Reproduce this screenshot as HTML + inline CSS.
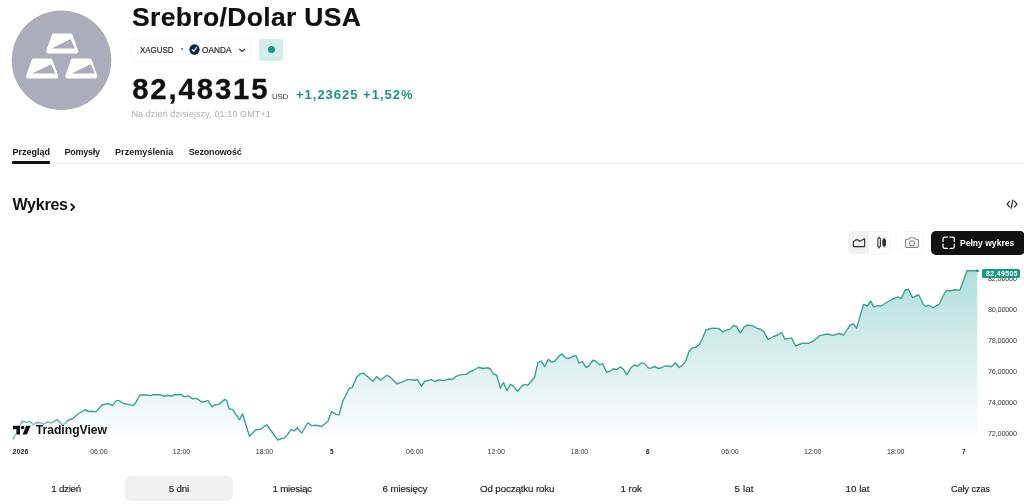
<!DOCTYPE html>
<html lang="pl">
<head>
<meta charset="utf-8">
<title>Srebro/Dolar USA</title>
<style>
html,body{margin:0;padding:0;background:#fff;}
body{will-change:transform;width:1024px;height:504px;position:relative;overflow:hidden;font-family:"Liberation Sans",sans-serif;}
.t{position:absolute;line-height:1;white-space:nowrap;font-family:"Liberation Sans",sans-serif;}
.abs{position:absolute;}
</style>
</head>
<body>

<!-- symbol logo -->
<svg class="abs" style="left:0;top:0" width="128" height="126" viewBox="0 0 128 126">
  <circle cx="61.5" cy="60.3" r="49.8" fill="#acacba"/>
  <g fill="#fff" stroke="#fff" stroke-width="4.4" stroke-linejoin="round">
    <path d="M53.8 35.6 L70.4 35.6 L76.1 51.4 L48.4 51.4 Z"/>
    <path d="M33.7 60.6 L50.3 60.6 L56 76.4 L28.3 76.4 Z"/>
    <path d="M72.9 60.6 L89.5 60.6 L95.2 76.4 L67.5 76.4 Z"/>
  </g>
  <g fill="#acacba">
    <path d="M51.4 48.5 L70.7 38.9 L74.9 48.5 Z"/>
    <path d="M31.9 73.6 L51.2 64.2 L55.4 73.6 Z"/>
    <path d="M71.4 73.6 L90.7 64.2 L94.9 73.6 Z"/>
  </g>
</svg>

<!-- symbol pill -->
<div class="abs" style="left:131px;top:38px;width:119px;height:22px;border:1px solid #f6f6f6;border-radius:4px;"></div>
<div class="abs" style="left:180.5px;top:48.1px;width:2px;height:2px;border-radius:50%;background:#666;"></div>
<svg class="abs" style="left:188.5px;top:44.3px" width="11" height="11" viewBox="0 0 11 11">
  <circle cx="5.5" cy="5.5" r="5.15" fill="#13244a"/>
  <path d="M3.3 5.7 L4.8 7.3 L7.6 3.5" fill="none" stroke="#e6edff" stroke-width="1.25" stroke-linecap="round" stroke-linejoin="round"/>
</svg>
<svg class="abs" style="left:238px;top:47px" width="9" height="7" viewBox="0 0 9 7">
  <path d="M1.7 2.2 L4.15 4.4 L6.6 2.2" fill="none" stroke="#444" stroke-width="1.3" stroke-linecap="round" stroke-linejoin="round"/>
</svg>
<!-- market open box -->
<div class="abs" style="left:259px;top:39px;width:24px;height:21.5px;border-radius:3px;background:#d3eee8;"></div>
<div class="abs" style="left:267.7px;top:46.2px;width:7px;height:7px;border-radius:50%;background:#179a7c;"></div>

<!-- tabs -->
<div class="abs" style="left:12px;top:162.6px;width:1012px;height:1px;background:#ececec;"></div>
<div class="abs" style="left:12.4px;top:161.3px;width:37.8px;height:2.4px;border-radius:1px;background:#111;"></div>

<!-- Wykres chevron -->
<svg class="abs" style="left:69px;top:202px" width="8" height="10" viewBox="0 0 8 10">
  <path d="M2.2 2.2 L5.3 5.2 L2.2 8.2" fill="none" stroke="#111" stroke-width="1.8" stroke-linecap="round" stroke-linejoin="round"/>
</svg>

<!-- embed icon -->
<svg class="abs" style="left:1005px;top:198px" width="14" height="12" viewBox="0 0 14 12">
  <g fill="none" stroke="#2e2e2e" stroke-width="1.3" stroke-linecap="round" stroke-linejoin="round">
    <path d="M4.5 3.3 L2.1 6.1 L4.5 8.9"/>
    <path d="M9.6 3.3 L12 6.1 L9.6 8.9"/>
    <path d="M7.9 2.2 L6.2 10"/>
  </g>
</svg>

<!-- chart type group -->
<div class="abs" style="left:847.5px;top:230.5px;width:43px;height:23px;border:1px solid #f5f5f5;border-radius:4px;box-sizing:border-box;"></div>
<div class="abs" style="left:848.5px;top:231.5px;width:20.5px;height:21px;border-radius:3px;background:#f1f1f1;"></div>
<svg class="abs" style="left:851px;top:235px" width="16" height="15" viewBox="0 0 16 15">
  <path d="M2.4 11.6 L2.4 6.6 L6 4.4 L8.8 6.3 L13.6 3.7 L13.6 11.6 Z" fill="none" stroke="#333" stroke-width="1.15" stroke-linejoin="round"/>
</svg>
<svg class="abs" style="left:875px;top:235px" width="13" height="15" viewBox="0 0 13 15">
  <g fill="none" stroke="#333" stroke-width="1.1">
    <rect x="2.9" y="3.3" width="2.5" height="8.6" rx="0.6"/>
    <path d="M4.15 1.4 V3.3 M4.15 11.9 V13.6"/>
    <rect x="7.9" y="4.6" width="2.5" height="6.1" rx="0.6" fill="#333"/>
    <path d="M9.15 2.7 V4.6 M9.15 10.7 V12.4"/>
  </g>
</svg>
<!-- camera -->
<div class="abs" style="left:900.5px;top:230.5px;width:23px;height:23px;border:1px solid #f6f6f6;border-radius:4px;box-sizing:border-box;"></div>
<svg class="abs" style="left:904px;top:236px" width="16" height="13" viewBox="0 0 16 13">
  <g fill="none" stroke="#8a8a8a" stroke-width="1.1" stroke-linejoin="round">
    <path d="M1.6 4 Q1.6 3.2 2.4 3.2 L4.8 3.2 L5.9 1.7 L10.1 1.7 L11.2 3.2 L13.6 3.2 Q14.4 3.2 14.4 4 L14.4 10.6 Q14.4 11.4 13.6 11.4 L2.4 11.4 Q1.6 11.4 1.6 10.6 Z"/>
    <circle cx="8" cy="7.2" r="2.5"/>
  </g>
</svg>
<!-- full chart button -->
<div class="abs" style="left:931px;top:231px;width:93.5px;height:23.5px;border-radius:5px;background:#111;"></div>
<svg class="abs" style="left:942.3px;top:235.7px" width="14" height="14" viewBox="0 0 14 14">
  <g fill="none" stroke="#fff" stroke-width="1.25" stroke-linecap="round" stroke-linejoin="round">
    <path d="M1.1 5.4 V2.6 Q1.1 1.1 2.6 1.1 H5.4"/>
    <path d="M8 1.1 H10.8 Q12.3 1.1 12.3 2.6 V5.4"/>
    <path d="M12.3 8 V10.8 Q12.3 12.3 10.8 12.3 H8"/>
    <path d="M5.4 12.3 H2.6 Q1.1 12.3 1.1 10.8 V8"/>
  </g>
</svg>

<!-- chart -->
<svg class="abs" style="left:0;top:0" width="1024" height="504" viewBox="0 0 1024 504">
  <defs>
    <linearGradient id="ag" x1="0" y1="262" x2="0" y2="441" gradientUnits="userSpaceOnUse">
      <stop offset="0" stop-color="#1aa098" stop-opacity="0.36"/>
      <stop offset="1" stop-color="#1aa098" stop-opacity="0"/>
    </linearGradient>
  </defs>
  <polygon fill="url(#ag)" points="13.1,441 13.1,439 16.25,433.1 19.2,426.6 22.3,421.2 24,421.6 26.2,422.6 29.2,421.4 31.2,422.4 33.1,424.8 36.9,422.5 41.25,422.9 43.75,424.4 47.75,421.9 51.25,423.1 56.9,419.75 60,422.5 62.1,424.75 65,423.75 68.1,420.25 72.5,418.75 78.1,414 85,409.75 88.75,411.5 92.5,411.25 96,411.9 101.9,405 108.1,403.5 112.5,405.6 116.25,400.6 118.75,400.6 123.75,403.5 128,404.4 133,405.6 135.5,403.1 139.9,395 145.5,395 151.1,395.6 152.4,394.75 159.9,394.75 164.25,396.25 167.4,395.25 171.1,396 174.9,394.75 181.1,394.5 184.9,396.9 188,395.6 192.4,398.75 196.75,398.4 201.75,402.25 208,400.6 212,406.9 214.9,404.75 218.6,404.4 224.9,399.4 226.75,400.6 229,408.75 232.4,409.4 239.6,419.75 242.4,413.75 249.5,436.25 256,429.8 260.4,429.4 266.6,424.75 277.9,440 281,438.75 284.1,438.1 287.25,435 291,429.4 294.1,431 297.25,427.75 301.6,433.1 307.9,422.75 311.6,425.6 316,425.25 321.6,426.5 327.9,421.25 331.6,411.5 336,414.4 339.1,414.75 342.7,401.2 349.3,388.3 352.1,387.75 356.9,376.9 360,374 363.1,373.1 373.1,381.25 376.5,376.6 380.6,380 386.9,375.25 390,376.9 396.9,383.75 402.5,381.9 408.1,379.4 415,380.25 417.5,379.4 421.25,386.25 424.75,381.25 431.25,379.6 435,381.5 438.75,380 443.75,380.4 449.4,379 452.5,379.4 455.8,376.4 461.6,374.6 466,374.4 469.75,371.9 472.25,371 478.5,367.25 482.9,368.5 487.9,367.75 490.4,369 493.5,374 496.6,375 500.4,388.1 503.5,382.5 507,390.6 510.4,384.4 512.9,385.6 517.5,391.25 521,386.9 524.1,384.4 527.9,385.25 534.5,377.5 537.9,362.75 541,361 544.75,366.5 548.25,359.4 552,362.25 554.75,361.25 559.75,355.25 562.25,354 565.4,357.9 568.5,358.5 574.75,355.6 576.2,355.9 579,363.1 582,361.5 586.25,367.25 588.5,366.25 592.9,360.25 595.4,361 600,365 602.5,363.5 606.6,372.25 609.75,371.25 613.25,368.75 617,369.6 620,366.9 622.9,368.75 627,374.75 630.75,368.1 634.1,365 637.5,366.25 641,363.1 644.1,363.1 648.5,368.1 651,368.1 654.5,366.5 658.5,368.5 662.25,367.5 665,366 671.6,366.5 675.4,362.75 679.1,367.5 682.25,365.25 685.4,361.9 689.1,351.25 692.25,347.75 696,347.1 699.75,344 702.25,338.75 706,330 712.25,328.1 719.1,328.5 722.9,331.9 726.6,330 729.75,329.4 733.25,325.6 736.6,326.25 740.4,333.1 744.1,326.9 747.9,325 752.9,325.9 757.25,328.5 760.4,329 764.1,331.9 767.9,339.4 773.5,336.5 778.5,334.75 781.6,332.5 784.75,339 791.6,338.1 795.75,346 802.25,343.1 808.5,343.4 814.1,340.6 819.75,335.6 827.25,334 832.9,335.4 839.1,333.5 843.75,335 850,325 853.5,324 856.6,328.1 863.5,304.4 867.25,306 870.75,301 873.75,306.9 877.25,305.6 881,306 891,299.75 897.9,296.9 901.4,298.5 905,290.2 908.4,289.3 912.4,297.55 918.6,294.75 923.4,304.45 926.1,306.45 928.6,305.25 932.9,307.7 939.1,304.3 946,290.5 949.75,291 954.75,289.75 960,290.1 967,270.75 977.25,270.75 977.25,441"/>
  <polyline fill="none" stroke="#3aa391" stroke-width="1.4" stroke-linejoin="round" stroke-linecap="round" points="13.1,439 16.25,433.1 19.2,426.6 22.3,421.2 24,421.6 26.2,422.6 29.2,421.4 31.2,422.4 33.1,424.8 36.9,422.5 41.25,422.9 43.75,424.4 47.75,421.9 51.25,423.1 56.9,419.75 60,422.5 62.1,424.75 65,423.75 68.1,420.25 72.5,418.75 78.1,414 85,409.75 88.75,411.5 92.5,411.25 96,411.9 101.9,405 108.1,403.5 112.5,405.6 116.25,400.6 118.75,400.6 123.75,403.5 128,404.4 133,405.6 135.5,403.1 139.9,395 145.5,395 151.1,395.6 152.4,394.75 159.9,394.75 164.25,396.25 167.4,395.25 171.1,396 174.9,394.75 181.1,394.5 184.9,396.9 188,395.6 192.4,398.75 196.75,398.4 201.75,402.25 208,400.6 212,406.9 214.9,404.75 218.6,404.4 224.9,399.4 226.75,400.6 229,408.75 232.4,409.4 239.6,419.75 242.4,413.75 249.5,436.25 256,429.8 260.4,429.4 266.6,424.75 277.9,440 281,438.75 284.1,438.1 287.25,435 291,429.4 294.1,431 297.25,427.75 301.6,433.1 307.9,422.75 311.6,425.6 316,425.25 321.6,426.5 327.9,421.25 331.6,411.5 336,414.4 339.1,414.75 342.7,401.2 349.3,388.3 352.1,387.75 356.9,376.9 360,374 363.1,373.1 373.1,381.25 376.5,376.6 380.6,380 386.9,375.25 390,376.9 396.9,383.75 402.5,381.9 408.1,379.4 415,380.25 417.5,379.4 421.25,386.25 424.75,381.25 431.25,379.6 435,381.5 438.75,380 443.75,380.4 449.4,379 452.5,379.4 455.8,376.4 461.6,374.6 466,374.4 469.75,371.9 472.25,371 478.5,367.25 482.9,368.5 487.9,367.75 490.4,369 493.5,374 496.6,375 500.4,388.1 503.5,382.5 507,390.6 510.4,384.4 512.9,385.6 517.5,391.25 521,386.9 524.1,384.4 527.9,385.25 534.5,377.5 537.9,362.75 541,361 544.75,366.5 548.25,359.4 552,362.25 554.75,361.25 559.75,355.25 562.25,354 565.4,357.9 568.5,358.5 574.75,355.6 576.2,355.9 579,363.1 582,361.5 586.25,367.25 588.5,366.25 592.9,360.25 595.4,361 600,365 602.5,363.5 606.6,372.25 609.75,371.25 613.25,368.75 617,369.6 620,366.9 622.9,368.75 627,374.75 630.75,368.1 634.1,365 637.5,366.25 641,363.1 644.1,363.1 648.5,368.1 651,368.1 654.5,366.5 658.5,368.5 662.25,367.5 665,366 671.6,366.5 675.4,362.75 679.1,367.5 682.25,365.25 685.4,361.9 689.1,351.25 692.25,347.75 696,347.1 699.75,344 702.25,338.75 706,330 712.25,328.1 719.1,328.5 722.9,331.9 726.6,330 729.75,329.4 733.25,325.6 736.6,326.25 740.4,333.1 744.1,326.9 747.9,325 752.9,325.9 757.25,328.5 760.4,329 764.1,331.9 767.9,339.4 773.5,336.5 778.5,334.75 781.6,332.5 784.75,339 791.6,338.1 795.75,346 802.25,343.1 808.5,343.4 814.1,340.6 819.75,335.6 827.25,334 832.9,335.4 839.1,333.5 843.75,335 850,325 853.5,324 856.6,328.1 863.5,304.4 867.25,306 870.75,301 873.75,306.9 877.25,305.6 881,306 891,299.75 897.9,296.9 901.4,298.5 905,290.2 908.4,289.3 912.4,297.55 918.6,294.75 923.4,304.45 926.1,306.45 928.6,305.25 932.9,307.7 939.1,304.3 946,290.5 949.75,291 954.75,289.75 960,290.1 967,270.75 977.25,270.75"/>
  <circle cx="977.5" cy="270.8" r="1.4" fill="#178d78"/>
</svg>

<!-- price label -->
<div class="abs" style="left:982px;top:269.3px;width:38.2px;height:9px;border-radius:1.5px;background:#169a80;z-index:2;"></div>

<!-- tradingview logo -->
<div class="abs" style="left:10px;top:423px;width:100px;height:14px;background:rgba(255,255,255,0.55);filter:blur(2px);"></div>
<svg class="abs" style="left:12px;top:425px" width="20" height="10" viewBox="0 0 20 10">
  <g fill="#111">
    <path d="M1 0.8 H8 V9.4 H4.5 V4.2 H1 Z"/>
    <circle cx="10.6" cy="2.5" r="1.75"/>
    <path d="M14.2 0.8 H18.6 L14.9 9.4 H10.6 Z"/>
  </g>
</svg>

<!-- range selected -->
<div class="abs" style="left:125px;top:476.3px;width:107.5px;height:25px;border-radius:6px;background:#f0f0f0;"></div>

<span class="t" id="t0" style="left:132.00px;top:4.00px;font-size:26.5px;font-weight:700;color:#111;letter-spacing:0.345px;-webkit-text-stroke:0.2px #111;">Srebro/Dolar USA</span>
<span class="t" id="t1" style="left:140.40px;top:46.00px;font-size:9px;font-weight:400;color:#2a2a2a;letter-spacing:0.000px;-webkit-text-stroke:0.2px #2a2a2a;transform:scaleX(0.8838);transform-origin:0 0;">XAGUSD</span>
<span class="t" id="t2" style="left:202.00px;top:46.00px;font-size:9px;font-weight:400;color:#2a2a2a;letter-spacing:0.000px;-webkit-text-stroke:0.2px #2a2a2a;transform:scaleX(0.9214);transform-origin:0 0;">OANDA</span>
<span class="t" id="t3" style="left:132.20px;top:74.00px;font-size:29.3px;font-weight:700;color:#111;letter-spacing:1.885px;-webkit-text-stroke:0.3px #111;">82,48315</span>
<span class="t" id="t4" style="left:271.90px;top:93.00px;font-size:8px;font-weight:400;color:#333;letter-spacing:-0.245px;">USD</span>
<span class="t" id="t5" style="left:296.00px;top:88.00px;font-size:13px;font-weight:700;color:#1c9380;letter-spacing:0.989px;">+1,23625 +1,52%</span>
<span class="t" id="t6" style="left:131.40px;top:110.00px;font-size:9px;font-weight:400;color:#aeaeae;letter-spacing:0.105px;">Na dzień dzisiejszy, 01:10 GMT+1</span>
<span class="t" id="t7" style="left:12.50px;top:148.00px;font-size:9px;font-weight:700;color:#111;letter-spacing:-0.002px;">Przegląd</span>
<span class="t" id="t8" style="left:64.50px;top:148.00px;font-size:9px;font-weight:700;color:#222;letter-spacing:-0.255px;">Pomysły</span>
<span class="t" id="t9" style="left:115.00px;top:148.00px;font-size:9px;font-weight:700;color:#222;letter-spacing:0.064px;">Przemyślenia</span>
<span class="t" id="t10" style="left:188.75px;top:148.00px;font-size:9px;font-weight:700;color:#222;letter-spacing:-0.168px;">Sezonowość</span>
<span class="t" id="t11" style="left:12.50px;top:197.00px;font-size:16px;font-weight:700;color:#111;letter-spacing:-0.228px;">Wykres</span>
<span class="t" id="t12" style="left:959.75px;top:238.00px;font-size:9.6px;font-weight:700;color:#fff;letter-spacing:0.000px;transform:scaleX(0.8921);transform-origin:0 0;">Pełny wykres</span>
<span class="t" id="t13" style="left:35.70px;top:424.00px;font-size:12.2px;font-weight:700;color:#111;letter-spacing:-0.018px;">TradingView</span>
<span class="t" id="t14" style="left:986.00px;top:270.00px;font-size:7px;font-weight:700;color:#fff;letter-spacing:0.328px;z-index:3;">82,49505</span>
<span class="t" id="t15" style="left:988.00px;top:275.00px;font-size:7.3px;font-weight:400;color:#3a3a3a;letter-spacing:-0.205px;">82,00000</span>
<span class="t" id="t16" style="left:988.00px;top:306.00px;font-size:7.3px;font-weight:400;color:#3a3a3a;letter-spacing:-0.205px;">80,00000</span>
<span class="t" id="t17" style="left:988.00px;top:337.00px;font-size:7.3px;font-weight:400;color:#3a3a3a;letter-spacing:-0.205px;">78,00000</span>
<span class="t" id="t18" style="left:988.00px;top:368.00px;font-size:7.3px;font-weight:400;color:#3a3a3a;letter-spacing:-0.205px;">76,00000</span>
<span class="t" id="t19" style="left:988.00px;top:399.00px;font-size:7.3px;font-weight:400;color:#3a3a3a;letter-spacing:-0.205px;">74,00000</span>
<span class="t" id="t20" style="left:988.00px;top:430.00px;font-size:7.3px;font-weight:400;color:#3a3a3a;letter-spacing:-0.205px;">72,00000</span>
<span class="t" id="t21" style="left:12.40px;top:448.00px;font-size:7px;font-weight:700;color:#222;letter-spacing:0.141px;">2026</span>
<span class="t" id="t22" style="left:90.20px;top:448.00px;font-size:7px;font-weight:400;color:#333;letter-spacing:-0.033px;">06:00</span>
<span class="t" id="t23" style="left:172.80px;top:448.00px;font-size:7px;font-weight:400;color:#333;letter-spacing:-0.033px;">12:00</span>
<span class="t" id="t24" style="left:255.80px;top:448.00px;font-size:7px;font-weight:400;color:#333;letter-spacing:-0.033px;">18:00</span>
<span class="t" id="t25" style="left:406.05px;top:448.00px;font-size:7px;font-weight:400;color:#333;letter-spacing:-0.033px;">06:00</span>
<span class="t" id="t26" style="left:487.55px;top:448.00px;font-size:7px;font-weight:400;color:#333;letter-spacing:-0.033px;">12:00</span>
<span class="t" id="t27" style="left:570.80px;top:448.00px;font-size:7px;font-weight:400;color:#333;letter-spacing:-0.033px;">18:00</span>
<span class="t" id="t28" style="left:721.30px;top:448.00px;font-size:7px;font-weight:400;color:#333;letter-spacing:-0.033px;">06:00</span>
<span class="t" id="t29" style="left:804.05px;top:448.00px;font-size:7px;font-weight:400;color:#333;letter-spacing:-0.033px;">12:00</span>
<span class="t" id="t30" style="left:887.05px;top:448.00px;font-size:7px;font-weight:400;color:#333;letter-spacing:-0.033px;">18:00</span>
<span class="t" id="t31" style="left:330.40px;top:448.00px;font-size:7px;font-weight:700;color:#222;letter-spacing:0.000px;transform:scaleX(0.9216);transform-origin:0 0;">5</span>
<span class="t" id="t32" style="left:645.90px;top:448.00px;font-size:7px;font-weight:700;color:#222;letter-spacing:0.000px;transform:scaleX(0.9216);transform-origin:0 0;">6</span>
<span class="t" id="t33" style="left:961.80px;top:448.00px;font-size:7px;font-weight:700;color:#222;letter-spacing:0.000px;transform:scaleX(0.9216);transform-origin:0 0;">7</span>
<span class="t" id="t34" style="left:51.25px;top:484.00px;font-size:9.8px;font-weight:400;color:#1c1c1c;letter-spacing:-0.266px;-webkit-text-stroke:0.15px #1c1c1c;">1 dzień</span>
<span class="t" id="t35" style="left:168.75px;top:484.00px;font-size:9.8px;font-weight:400;color:#1c1c1c;letter-spacing:-0.188px;-webkit-text-stroke:0.15px #1c1c1c;">5 dni</span>
<span class="t" id="t36" style="left:272.50px;top:484.00px;font-size:9.8px;font-weight:400;color:#1c1c1c;letter-spacing:-0.236px;-webkit-text-stroke:0.15px #1c1c1c;">1 miesiąc</span>
<span class="t" id="t37" style="left:382.50px;top:484.00px;font-size:9.8px;font-weight:400;color:#1c1c1c;letter-spacing:-0.142px;-webkit-text-stroke:0.15px #1c1c1c;">6 miesięcy</span>
<span class="t" id="t38" style="left:480.00px;top:484.00px;font-size:9.8px;font-weight:400;color:#1c1c1c;letter-spacing:-0.153px;-webkit-text-stroke:0.15px #1c1c1c;">Od początku roku</span>
<span class="t" id="t39" style="left:620.50px;top:484.00px;font-size:9.8px;font-weight:400;color:#1c1c1c;letter-spacing:-0.070px;-webkit-text-stroke:0.15px #1c1c1c;">1 rok</span>
<span class="t" id="t40" style="left:734.50px;top:484.00px;font-size:9.8px;font-weight:400;color:#1c1c1c;letter-spacing:0.117px;-webkit-text-stroke:0.15px #1c1c1c;">5 lat</span>
<span class="t" id="t41" style="left:845.50px;top:484.00px;font-size:9.8px;font-weight:400;color:#1c1c1c;letter-spacing:0.006px;-webkit-text-stroke:0.15px #1c1c1c;">10 lat</span>
<span class="t" id="t42" style="left:950.50px;top:484.00px;font-size:9.8px;font-weight:400;color:#1c1c1c;letter-spacing:0.000px;-webkit-text-stroke:0.15px #1c1c1c;transform:scaleX(0.9183);transform-origin:0 0;">Cały czas</span>

</body>
</html>
